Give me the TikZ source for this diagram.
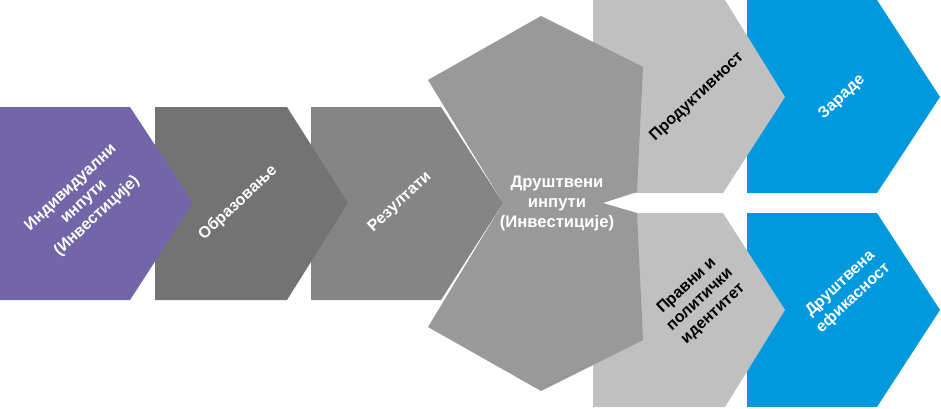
\documentclass[tikz,border=0pt]{standalone}
\usepackage{fontspec}
\setmainfont{Liberation Sans}
\definecolor{cpurple}{RGB}{115,102,168}
\definecolor{cgraytwo}{RGB}{115,115,115}
\definecolor{cgraythree}{RGB}{133,133,133}
\definecolor{cgraymid}{RGB}{153,153,153}
\definecolor{clight}{RGB}{192,192,192}
\definecolor{cblue}{RGB}{0,153,222}
\tikzset{
  lbl/.style={font=\bfseries\fontsize{12}{14.5}\selectfont, align=center, inner sep=0pt},
  wlbl/.style={lbl, text=white},
  blbl/.style={lbl, text=black},
  flat/.style={font=\bfseries\fontsize{12.5}{15}\selectfont},
}
\begin{document}
\begin{tikzpicture}[x=0.75pt,y=-0.75pt]
\useasboundingbox (0,0) rectangle (941,408);
% blue chevrons
\fill[cblue] (747,0) -- (877,0) -- (940,97) -- (877,193) -- (747,193) -- cycle;
\fill[cblue] (747,213) -- (877,213) -- (940,310) -- (877,407) -- (747,407) -- cycle;
% light gray chevrons
\fill[clight] (593,0) -- (725,0) -- (785,97) -- (723,193) -- (593,193) -- cycle;
\fill[clight] (593,213) -- (723,213) -- (785,310) -- (725,407) -- (593,407) -- cycle;
% middle shape
\fill[cgraymid] (428,80) -- (541,16) -- (643,67) -- (637,192) -- (603,203) -- (637,213)
  -- (643,340) -- (541,391) -- (428,327) -- (503,203) -- cycle;
% shape 3
\fill[cgraythree] (311,107) -- (441,107) -- (503,203) -- (441,300) -- (311,300) -- cycle;
% shape 2
\fill[cgraytwo] (155,107) -- (287,107) -- (348,203) -- (287,300) -- (155,300) -- cycle;
% purple
\fill[cpurple] (0,107) -- (130,107) -- (193,203) -- (130,300) -- (0,300) -- cycle;
% labels
\node[wlbl, rotate=43] (t1) at (84,202) {Индивидуални\\инпути\\(Инвестиције)};
\node[wlbl, rotate=43] (t2) at (238,203) {Образовање};
\node[wlbl, rotate=43] (t3) at (400,202) {Резултати};
\node[wlbl, flat] (t4) at (557,203) {Друштвени\\инпути\\(Инвестиције)};
\node[blbl, rotate=43] (t5) at (697,97) {Продуктивност};
\node[wlbl, rotate=43] (t6) at (842,97) {Зараде};
\node[blbl, rotate=43] (t7) at (700,300) {Правни и\\политички\\идентитет};
\node[wlbl, rotate=43] (t8) at (847,291) {Друштвена\\ефикасност};
\end{tikzpicture}
\end{document}
